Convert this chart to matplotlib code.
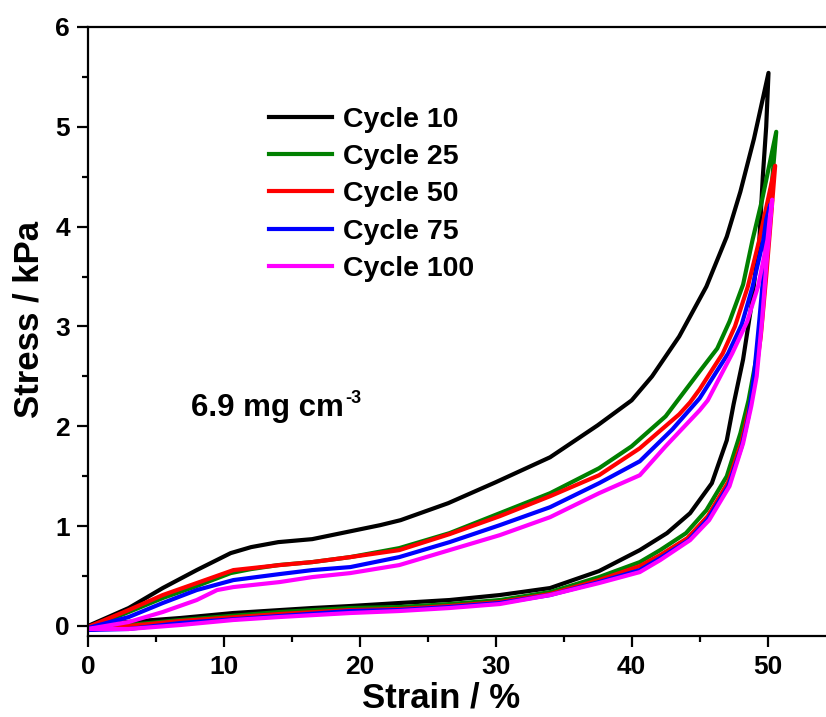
import matplotlib
matplotlib.use("Agg")
import matplotlib.pyplot as plt
from matplotlib.ticker import MultipleLocator

plt.rcParams['font.family'] = ['Liberation Sans', 'DejaVu Sans']
plt.rcParams['font.weight'] = 'bold'

labels = ["Cycle 10", "Cycle 25", "Cycle 50", "Cycle 75", "Cycle 100"]
colors = ["black", "green", "red", "blue", "magenta"]

# loading branches (strain %, stress kPa)
load10_x = [0, 3, 5.5, 8, 10.5, 12, 14, 16.5, 19, 21.5, 23, 26.5, 30, 34, 37.5, 40, 41.5, 43.5, 45.5, 47, 48, 49, 50.07]
load10_y = [0, 0.18, 0.38, 0.56, 0.73, 0.79, 0.84, 0.87, 0.94, 1.01, 1.06, 1.23, 1.44, 1.69, 2.01, 2.26, 2.50, 2.90, 3.40, 3.90, 4.35, 4.88, 5.54]
load25_x = [0, 3, 5.5, 8, 10.5, 12, 14, 16.5, 19.3, 22.9, 26.6, 30.3, 34, 37.6, 40, 42.5, 45, 46.3, 47.2, 48.2, 48.9, 49.6, 50.64]
load25_y = [-0.02, 0.14, 0.28, 0.40, 0.53, 0.57, 0.61, 0.64, 0.69, 0.78, 0.93, 1.13, 1.33, 1.58, 1.80, 2.10, 2.55, 2.78, 3.05, 3.42, 3.87, 4.27, 4.95]
load50_x = [0, 3, 5.5, 8, 10.7, 14.1, 16.5, 19.3, 22.9, 26.6, 30.3, 34, 37.6, 40.6, 43.5, 44.3, 45, 46.7, 47.6, 48.55, 49.4, 50.56]
load50_y = [-0.01, 0.16, 0.31, 0.43, 0.56, 0.61, 0.64, 0.69, 0.76, 0.92, 1.10, 1.30, 1.51, 1.78, 2.12, 2.24, 2.37, 2.73, 3.00, 3.40, 3.87, 4.61]
load75_x = [0, 3, 5.5, 8, 10.7, 14.1, 16.5, 19.3, 22.9, 26.6, 30.3, 34, 37.6, 40.6, 43, 45, 47.1, 48.1, 48.9, 49.7, 49.9, 50.2]
load75_y = [-0.02, 0.09, 0.23, 0.36, 0.46, 0.52, 0.56, 0.59, 0.69, 0.84, 1.01, 1.19, 1.43, 1.65, 1.97, 2.28, 2.73, 3.02, 3.40, 3.87, 4.07, 4.22]
load100_x = [0, 3, 5.5, 8, 9.5, 10.7, 14.1, 16.5, 19.3, 22.9, 26.6, 30.3, 34, 37.6, 40.6, 42.5, 45, 45.6, 47.4, 48.5, 49.3, 50, 50.15, 50.34]
load100_y = [-0.03, 0.04, 0.14, 0.26, 0.36, 0.39, 0.44, 0.49, 0.53, 0.61, 0.76, 0.91, 1.09, 1.33, 1.51, 1.80, 2.16, 2.26, 2.73, 3.05, 3.40, 3.87, 4.07, 4.27]

# unloading branches
unl10_x = [50.07, 49.9, 49.65, 49.4, 48.8, 48.2, 47.5, 47.0, 45.9, 44.3, 42.6, 40.6, 37.6, 34.0, 30.3, 26.6, 22.9, 19.3, 16.5, 10.7, 6.8, 1.9, 0]
unl10_y = [5.54, 5.0, 4.5, 3.87, 3.2, 2.67, 2.22, 1.86, 1.43, 1.13, 0.93, 0.76, 0.55, 0.38, 0.31, 0.26, 0.23, 0.20, 0.18, 0.13, 0.08, 0.03, -0.01]
unl25_x = [50.64, 50.3, 50.0, 49.6, 49.2, 48.6, 48.0, 47.0, 45.5, 44.0, 42.1, 40.6, 37.6, 34.0, 30.3, 26.6, 22.9, 19.3, 14.1, 6.8, 3.0, 0]
unl25_y = [4.95, 4.4, 3.9, 3.2, 2.7, 2.26, 1.93, 1.50, 1.16, 0.93, 0.76, 0.64, 0.49, 0.34, 0.26, 0.22, 0.19, 0.18, 0.14, 0.06, 0.01, -0.03]
unl50_x = [50.56, 50.2, 49.9, 49.5, 49.0, 48.6, 48.1, 47.1, 45.6, 44.1, 42.1, 40.6, 37.6, 34.0, 30.3, 26.6, 22.9, 19.3, 14.1, 6.8, 3.0, 0]
unl50_y = [4.61, 4.0, 3.5, 2.9, 2.4, 2.15, 1.85, 1.44, 1.10, 0.88, 0.71, 0.60, 0.46, 0.32, 0.24, 0.20, 0.17, 0.16, 0.12, 0.05, 0.0, -0.04]
unl75_x = [50.2, 49.9, 49.75, 49.4, 49.0, 48.6, 48.1, 47.1, 45.6, 44.2, 42.1, 40.6, 37.6, 34.0, 30.3, 26.6, 22.9, 19.3, 14.1, 6.8, 3.0, 0]
unl75_y = [4.22, 3.9, 3.6, 3.07, 2.5, 2.1, 1.80, 1.40, 1.07, 0.86, 0.68, 0.56, 0.44, 0.31, 0.23, 0.19, 0.16, 0.15, 0.10, 0.03, -0.03, -0.04]
unl100_x = [50.34, 50.1, 49.9, 49.6, 49.2, 48.8, 48.2, 47.2, 45.7, 44.3, 42.1, 40.6, 37.6, 34.0, 30.3, 26.6, 22.9, 19.3, 14.1, 10.7, 6.8, 3.0, 0]
unl100_y = [4.27, 3.9, 3.6, 3.07, 2.5, 2.2, 1.83, 1.40, 1.06, 0.86, 0.66, 0.54, 0.43, 0.31, 0.22, 0.18, 0.15, 0.13, 0.09, 0.06, 0.01, -0.03, -0.03]

loads = [(load10_x, load10_y), (load25_x, load25_y), (load50_x, load50_y), (load75_x, load75_y), (load100_x, load100_y)]
unloads = [(unl10_x, unl10_y), (unl25_x, unl25_y), (unl50_x, unl50_y), (unl75_x, unl75_y), (unl100_x, unl100_y)]

fig = plt.figure(figsize=(8.26, 7.17), dpi=100)
ax = fig.add_axes([0.1065, 0.113, 0.8935, 0.8494])

for (lx, ly), (ux, uy), c, lab in zip(loads, unloads, colors, labels):
    ax.plot(lx + ux, ly + uy, color=c, lw=3, label=lab, solid_joinstyle='round')

ax.set_xlim(0, 54.3)
ax.set_ylim(-0.1, 6)
ax.xaxis.set_major_locator(MultipleLocator(10))
ax.xaxis.set_minor_locator(MultipleLocator(5))
ax.yaxis.set_major_locator(MultipleLocator(1))
ax.yaxis.set_minor_locator(MultipleLocator(0.5))
ax.spines['right'].set_visible(False)
for s in ['left', 'bottom', 'top']:
    ax.spines[s].set_linewidth(1.6)
ax.tick_params(which='major', direction='out', length=8, width=1.6, labelsize=19)
ax.tick_params(which='minor', direction='out', length=4, width=1.6)
ax.tick_params(axis='x', pad=5.5)
ax.tick_params(axis='y', pad=5)

ax.set_xlabel("Strain / %", fontsize=25, fontweight='bold')
ax.set_ylabel("Stress / kPa", fontsize=25, fontweight='bold')
ax.xaxis.set_label_coords(0.478, -0.075)
ax.yaxis.set_label_coords(-0.058, 0.52)

# density note with a small superscript
note = ax.text(7.6, 2.1, "6.9 mg cm", fontsize=22.5, fontweight='bold')
fig.canvas.draw()
bb = note.get_window_extent()
fig.text((bb.x1 + 1) / fig.bbox.width, (bb.y1 - 10) / fig.bbox.height, "-3",
         fontsize=13, fontweight='bold')

ax.legend(loc='upper left', bbox_to_anchor=(0.23, 0.888), frameon=False, fontsize=20.5,
          handlelength=2.2, handletextpad=0.4, labelspacing=0.4, borderaxespad=0)

fig.savefig("out.png", dpi=100)
